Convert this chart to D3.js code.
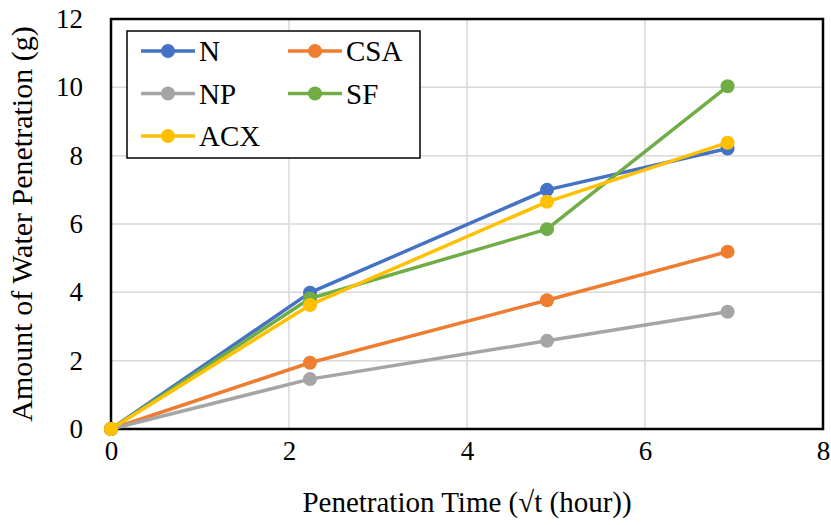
<!DOCTYPE html>
<html>
<head>
<meta charset="utf-8">
<script src="https://cdn.jsdelivr.net/npm/d3@7"></script>
<style>
  html, body { margin: 0; background: #fff; font-family: "Liberation Serif", "Times New Roman", serif; }
</style>
</head>
<body>
<div id="chart"></div>
<script>
// penetration time in sqrt(hour): 0, sqrt(5), sqrt(24), sqrt(48)
const times = [0, 2.236, 4.899, 6.928];

const seriesNames = ["N", "CSA", "NP", "SF", "ACX"];
const seriesColors = ["#4472C4", "#ED7D31", "#A5A5A5", "#70AD47", "#FFC000"];

const valuesN   = [0, 3.99, 7.00, 8.21];
const valuesCSA = [0, 1.94, 3.77, 5.19];
const valuesNP  = [0, 1.46, 2.58, 3.43];
const valuesSF  = [0, 3.82, 5.85, 10.03];
const valuesACX = [0, 3.63, 6.65, 8.38];

const xTicks = [0, 2, 4, 6, 8];
const yTicks = [0, 2, 4, 6, 8, 10, 12];

const allValues = [valuesN, valuesCSA, valuesNP, valuesSF, valuesACX];
const series = seriesNames.map((name, i) => ({
    name,
    color: seriesColors[i],
    points: times.map((t, j) => ({ x: t, y: allValues[i][j] }))
}));

const width = 831, height = 525;
const margin = { top: 19, right: 8, bottom: 96, left: 111 };
const serif = "'Liberation Serif', 'Times New Roman', 'DejaVu Serif', serif";

const svg = d3.select("#chart").append("svg")
    .attr("width", width)
    .attr("height", height)
    .style("font-family", serif);

const x = d3.scaleLinear().domain([0, 8]).range([margin.left, width - margin.right]);
const y = d3.scaleLinear().domain([0, 12]).range([height - margin.bottom, margin.top]);

// gridlines
svg.append("g")
    .selectAll("line.h")
    .data(yTicks.slice(1, -1))
    .join("line")
    .attr("x1", x(0)).attr("x2", x(8))
    .attr("y1", d => y(d)).attr("y2", d => y(d))
    .attr("stroke", "#d9d9d9").attr("stroke-width", 1.5);

svg.append("g")
    .selectAll("line.v")
    .data(xTicks.slice(1, -1))
    .join("line")
    .attr("x1", d => x(d)).attr("x2", d => x(d))
    .attr("y1", y(0)).attr("y2", y(12))
    .attr("stroke", "#d9d9d9").attr("stroke-width", 1.5);

// axes (labels only, frame drawn separately)
const xAxis = svg.append("g")
    .attr("transform", `translate(0,${y(0)})`)
    .call(d3.axisBottom(x).tickValues(xTicks).tickSize(0).tickPadding(12).tickFormat(d3.format("d")));
xAxis.select(".domain").remove();
xAxis.attr("font-family", null).attr("font-size", null);
xAxis.selectAll("text").attr("font-size", 27).attr("fill", "#000").style("font-family", serif);

const yAxis = svg.append("g")
    .attr("transform", `translate(${x(0)},0)`)
    .call(d3.axisLeft(y).tickValues(yTicks).tickSize(0).tickPadding(28).tickFormat(d3.format("d")));
yAxis.select(".domain").remove();
yAxis.attr("font-family", null).attr("font-size", null);
yAxis.selectAll("text").attr("font-size", 27).attr("fill", "#000").style("font-family", serif);

// plot frame
svg.append("rect")
    .attr("x", x(0)).attr("y", y(12))
    .attr("width", x(8) - x(0)).attr("height", y(0) - y(12))
    .attr("fill", "none").attr("stroke", "#000").attr("stroke-width", 2.5);

// lines and markers
const line = d3.line().x(d => x(d.x)).y(d => y(d.y));

const groups = svg.append("g")
    .selectAll("g.series")
    .data(series)
    .join("g")
    .attr("class", "series");

groups.append("path")
    .attr("d", d => line(d.points))
    .attr("fill", "none")
    .attr("stroke", d => d.color)
    .attr("stroke-width", 3.5)
    .attr("stroke-linejoin", "round");

groups.selectAll("circle")
    .data(d => d.points.map(p => ({ ...p, color: d.color })))
    .join("circle")
    .attr("cx", d => x(d.x))
    .attr("cy", d => y(d.y))
    .attr("r", 7)
    .attr("fill", d => d.color);

// axis titles
svg.append("text")
    .attr("x", (x(0) + x(8)) / 2)
    .attr("y", 512)
    .attr("text-anchor", "middle")
    .attr("font-size", 29)
    .style("font-family", serif)
    .text("Penetration Time (\u221At (hour))");

svg.append("text")
    .attr("transform", `translate(32,${(y(0) + y(12)) / 2}) rotate(-90)`)
    .attr("text-anchor", "middle")
    .attr("font-size", 30)
    .style("font-family", serif)
    .text("Amount of Water Penetration (g)");

// legend
const legend = svg.append("g").attr("transform", "translate(127,31)");
legend.append("rect")
    .attr("width", 293).attr("height", 127)
    .attr("fill", "#fff").attr("stroke", "#000").attr("stroke-width", 1.5);

const legendItems = legend.selectAll("g.item")
    .data(series)
    .join("g")
    .attr("class", "item")
    .attr("transform", (d, i) => `translate(${14 + (i % 2) * 147},${20 + Math.floor(i / 2) * 42.5})`);

legendItems.append("line")
    .attr("x1", 0).attr("x2", 54)
    .attr("stroke", d => d.color).attr("stroke-width", 3.5);

legendItems.append("circle")
    .attr("cx", 27).attr("r", 7)
    .attr("fill", d => d.color);

legendItems.append("text")
    .attr("x", 58)
    .attr("dy", "0.35em")
    .attr("font-size", 29)
    .style("font-family", serif)
    .text(d => d.name);
</script>
</body>
</html>
